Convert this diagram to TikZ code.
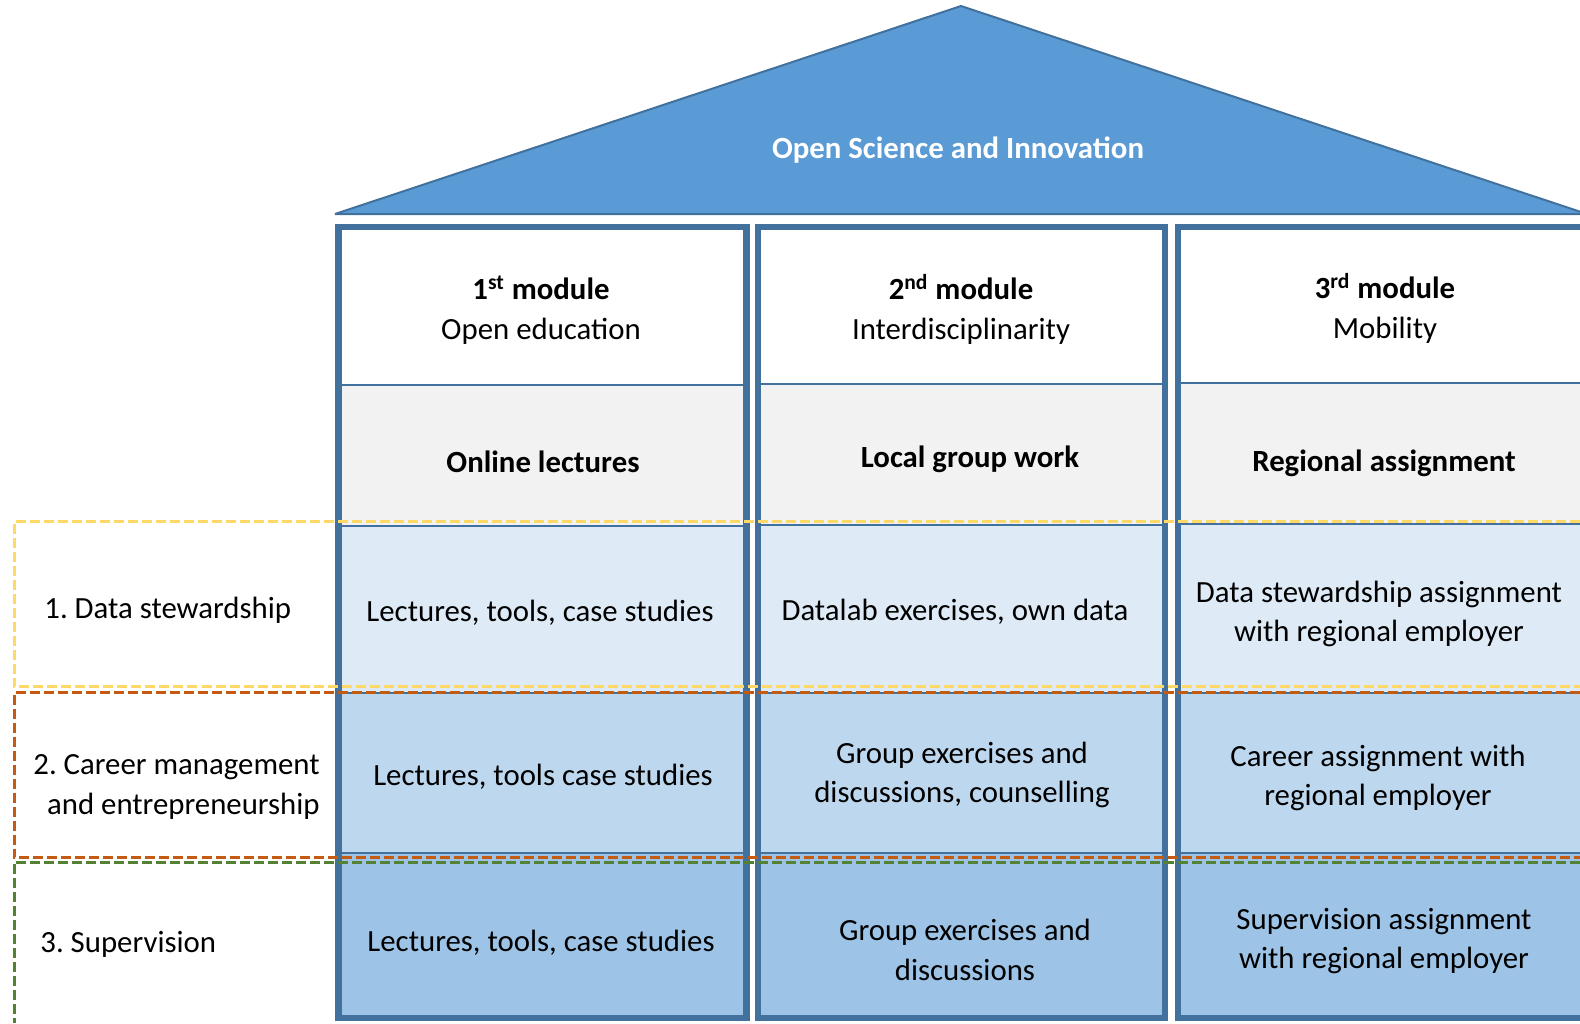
\documentclass[tikz,border=0pt]{standalone}
\usepackage{fontspec}
\setmainfont{Carlito}
\frenchspacing
\definecolor{frame}{HTML}{41719C}
\definecolor{roof}{HTML}{5B9BD5}
\definecolor{grey}{HTML}{F2F2F2}
\definecolor{toneA}{HTML}{DEEBF7}
\definecolor{toneB}{HTML}{BDD7EE}
\definecolor{toneC}{HTML}{9DC3E6}
\definecolor{bandA}{HTML}{FFD966}
\definecolor{bandB}{HTML}{C55A11}
\definecolor{bandC}{HTML}{548235}
\begin{document}
\begin{tikzpicture}[x = 0.5pt, y = -0.5pt,
		pillar/.style = {draw = frame, line width = 3.25pt},
		sep/.style = {draw = frame, line width = 1pt},
		txt/.style = {font = \fontsize{15.4}{19.7}\selectfont, align = center, inner sep = 0pt},
		head/.style = {txt, font = \fontsize{15.4}{19.7}\selectfont\bfseries},
		band/.style = {dash pattern = on 5pt off 2pt, line width = 1.5pt}]
		\useasboundingbox (0,0) rectangle (1580,1023);
		% roof
		\filldraw [fill = roof, draw = frame, line width = 1pt, line join = bevel] (335,214) -- (961,6) -- (1587,214) -- cycle;
		\node [head, white] (roofname) at (958,150) {Open Science and Innovation};
		% cells
		\fill [white] (342,230) rectangle (743,385);
		\fill [grey] (342,385) rectangle (743,526);
		\fill [toneA] (342,526) rectangle (743,693);
		\fill [toneB] (342,693) rectangle (743,853);
		\fill [toneC] (342,853) rectangle (743,1015);
		\fill [white] (761,230) rectangle (1162,384);
		\fill [grey] (761,384) rectangle (1162,525);
		\fill [toneA] (761,525) rectangle (1162,693);
		\fill [toneB] (761,693) rectangle (1162,853);
		\fill [toneC] (761,853) rectangle (1162,1015);
		\fill [white] (1181,230) rectangle (1580,383);
		\fill [grey] (1181,383) rectangle (1580,524);
		\fill [toneA] (1181,524) rectangle (1580,693);
		\fill [toneB] (1181,693) rectangle (1580,853);
		\fill [toneC] (1181,853) rectangle (1580,1015);
		\draw [sep] (342,385) -- (743,385) (342,526) -- (743,526) (342,693) -- (743,693) (342,853) -- (743,853);
		\draw [sep] (761,384) -- (1162,384) (761,525) -- (1162,525) (761,693) -- (1162,693) (761,853) -- (1162,853);
		\draw [sep] (1181,383) -- (1580,383) (1181,524) -- (1580,524) (1181,693) -- (1580,693) (1181,853) -- (1580,853);
		\draw [pillar] (338.5,227) rectangle (746.5,1018);
		\draw [pillar] (758,227) rectangle (1165,1018);
		\draw [pillar] (1580,227) -- (1178,227) -- (1178,1018) -- (1580,1018);
		% column heads
		\node [txt] (modA) at (541,310) {\textbf{1\textsuperscript{st} module}\\Open education};
		\node [txt] (modB) at (961,309) {\textbf{2\textsuperscript{nd} module}\\Interdisciplinarity};
		\node [txt] (modC) at (1385,308) {\textbf{3\textsuperscript{rd} module}\\Mobility};
		\node [head] (formA) at (543,462) {Online lectures};
		\node [head] (formB) at (970,459) {Local group work};
		\node [head] (formC) at (1384,463) {Regional assignment};
		% rows
		\node [txt] (dataA) at (540,613) {Lectures, tools, case studies};
		\node [txt] (dataB) at (955,612) {Datalab exercises, own data};
		\node [txt] (dataC) at (1379,614) {Data stewardship assignment\\with regional employer};
		\node [txt] (careerA) at (543,777) {Lectures, tools case studies};
		\node [txt] (careerB) at (962,775) {Group exercises and\\discussions, counselling};
		\node [txt] (careerC) at (1378,778) {Career assignment with\\regional employer};
		\node [txt] (superA) at (541,943) {Lectures, tools, case studies};
		\node [txt] (superB) at (965,950) {Group exercises and\\discussions};
		\node [txt] (superC) at (1384,941) {Supervision assignment\\with regional employer};
		\node [txt, anchor = west] (dataname) at (44,610) {1. Data stewardship};
		\node [txt, align = right, anchor = east] (careername) at (320,787) {2. Career management\\and entrepreneurship};
		\node [txt, anchor = west] (supername) at (40,944) {3. Supervision};
		% dashed bands
		\draw [band, bandA] (1580,521.5) -- (14,521.5) -- (14,686) -- (1580,686);
		\draw [band, bandB] (1580,692.5) -- (14,692.5) -- (14,857) -- (1580,857);
		\draw [band, bandC] (1580,862) -- (14,862) -- (14,1023);
	\end{tikzpicture}
\end{document}
